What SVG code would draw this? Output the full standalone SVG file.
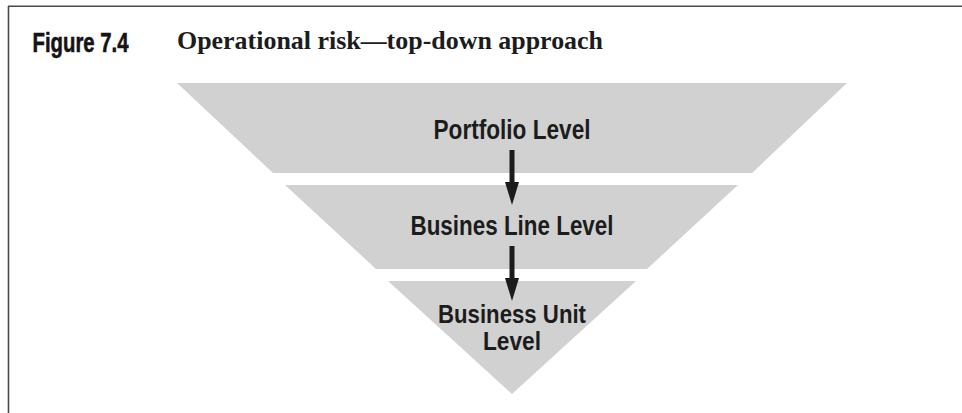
<svg xmlns="http://www.w3.org/2000/svg" width="962" height="413" viewBox="0 0 962 413">
<style>
.frame{stroke:#4a4a4a;stroke-width:1.6;fill:none}
.level{fill:#d1d1d1}
.lbl{font-family:"Liberation Sans",Arial,sans-serif;font-weight:bold;font-size:27px;fill:#1c1c1c;text-anchor:middle}
.small{font-size:25px}
.arrow{fill:#1c1c1c}
</style>
<rect width="962" height="413" fill="#ffffff"/>
<g id="frame">
<line class="frame" x1="8" y1="6.3" x2="962" y2="6.3"/>
<line class="frame" x1="8.5" y1="6" x2="8.5" y2="413"/>
</g>
<g id="title">
<text x="32.5" y="51.7" font-family="'Liberation Sans',Arial,sans-serif" font-weight="bold" font-size="28" fill="#141414" stroke="#141414" stroke-width="0.6" textLength="96" lengthAdjust="spacingAndGlyphs">Figure 7.4</text>
<text x="177" y="49" font-family="'Liberation Serif','Times New Roman',serif" font-weight="bold" font-size="26" fill="#1c1c1c" textLength="426" lengthAdjust="spacingAndGlyphs">Operational risk—top-down approach</text>
</g>
<g id="portfolio">
<polygon class="level" points="177,83 847,83 752,173 273,173"/>
<text class="lbl" x="512" y="139" textLength="157" lengthAdjust="spacingAndGlyphs">Portfolio Level</text>
</g>
<g id="business-line">
<polygon class="level" points="285,185 738,185 647,269 376,269"/>
<text class="lbl" x="512" y="235" textLength="203" lengthAdjust="spacingAndGlyphs">Busines Line Level</text>
</g>
<g id="business-unit">
<polygon class="level" points="388,281 636,281 512,394"/>
<text class="lbl small" x="512" y="323" textLength="148" lengthAdjust="spacingAndGlyphs">Business Unit</text>
<text class="lbl small" x="512" y="350" textLength="58" lengthAdjust="spacingAndGlyphs">Level</text>
</g>
<g id="connectors">
<path class="arrow" d="M509.5,150 H514.5 V182 H519 L512,205 L505,182 H509.5 Z"/>
<path class="arrow" d="M509.5,246 H514.5 V278 H519 L512,301 L505,278 H509.5 Z"/>
</g>
</svg>
